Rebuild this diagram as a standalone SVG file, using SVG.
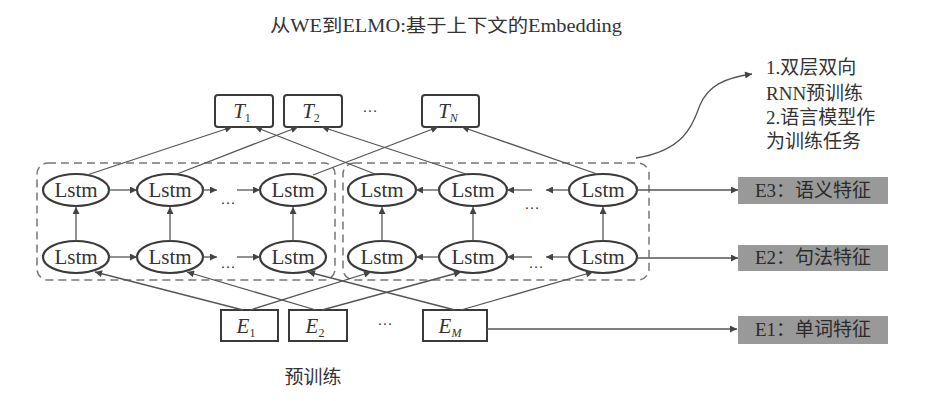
<svg xmlns="http://www.w3.org/2000/svg" width="952" height="401" viewBox="0 0 952 401">
<defs>
<marker id="ah" viewBox="0 0 10 10" refX="10" refY="5" markerWidth="9" markerHeight="7" markerUnits="userSpaceOnUse" orient="auto">
<path d="M0,0 L10,5 L0,10 z" fill="#444"/>
</marker>
</defs>
<style>
text{font-family:"Liberation Serif","Noto Sans CJK SC",serif;fill:#333}
.lstm ellipse{fill:#fff;stroke:#3a3a3a;stroke-width:2.2}
.lstm text{font-size:21px;text-anchor:middle}
.box rect{fill:#fff;stroke:#3a3a3a;stroke-width:2}
.box text{font-size:21px;text-anchor:middle;font-style:italic}
.sub{font-size:12px;font-style:normal}
.subi{font-size:12px;font-style:italic}
.feat rect{fill:#999;stroke:none}
.feat text{font-size:19px;text-anchor:middle;fill:#2a2a2a}
.c line,.c path{stroke:#555;stroke-width:1.3;fill:none;marker-end:url(#ah)}
.dash{fill:none;stroke:#777;stroke-width:1.5;stroke-dasharray:8 5}
.dots{font-size:15px;text-anchor:middle}
.note{font-size:19px}
</style>
<rect width="952" height="401" fill="#fff"/>
<text x="446" y="32" font-size="18" text-anchor="middle" textLength="352" lengthAdjust="spacingAndGlyphs">从WE到ELMO:基于上下文的Embedding</text>

<g id="groups">
<rect class="dash" x="37" y="163" width="298" height="117" rx="11"/>
<rect class="dash" x="343" y="163" width="306" height="117" rx="11"/>
</g>

<g id="T1" class="box"><rect x="215" y="95" width="58" height="32" rx="3"/><text x="242" y="118">T<tspan class="sub" dy="4">1</tspan></text></g>
<g id="T2" class="box"><rect x="284" y="95" width="58" height="32" rx="3"/><text x="311" y="118">T<tspan class="sub" dy="4">2</tspan></text></g>
<g id="TN" class="box"><rect x="422" y="95" width="57" height="32" rx="3"/><text x="448" y="118">T<tspan class="subi" dy="4">N</tspan></text></g>
<text class="dots" x="370" y="112">…</text>

<g id="E1" class="box"><rect x="221" y="310" width="57" height="31"/><text x="246" y="333">E<tspan class="sub" dy="4">1</tspan></text></g>
<g id="E2" class="box"><rect x="289" y="310" width="58" height="31"/><text x="315" y="333">E<tspan class="sub" dy="4">2</tspan></text></g>
<g id="EM" class="box"><rect x="423" y="310" width="64" height="31"/><text x="450" y="333">E<tspan class="subi" dy="4">M</tspan></text></g>
<text class="dots" x="385" y="325">…</text>

<g id="f1u1" class="lstm"><ellipse cx="76" cy="190" rx="33" ry="16"/><text x="76" y="197">Lstm</text></g>
<g id="f1u2" class="lstm"><ellipse cx="170" cy="190" rx="33" ry="16"/><text x="170" y="197">Lstm</text></g>
<g id="f1u3" class="lstm"><ellipse cx="293" cy="190" rx="33" ry="16"/><text x="293" y="197">Lstm</text></g>
<g id="f0u1" class="lstm"><ellipse cx="76" cy="257" rx="33" ry="16"/><text x="76" y="264">Lstm</text></g>
<g id="f0u2" class="lstm"><ellipse cx="170" cy="257" rx="33" ry="16"/><text x="170" y="264">Lstm</text></g>
<g id="f0u3" class="lstm"><ellipse cx="293" cy="257" rx="33" ry="16"/><text x="293" y="264">Lstm</text></g>
<g id="b1u1" class="lstm"><ellipse cx="382" cy="190" rx="34" ry="16"/><text x="382" y="197">Lstm</text></g>
<g id="b1u2" class="lstm"><ellipse cx="473" cy="190" rx="34" ry="16"/><text x="473" y="197">Lstm</text></g>
<g id="b1u3" class="lstm"><ellipse cx="603" cy="190" rx="34" ry="16"/><text x="603" y="197">Lstm</text></g>
<g id="b0u1" class="lstm"><ellipse cx="382" cy="257" rx="34" ry="16"/><text x="382" y="264">Lstm</text></g>
<g id="b0u2" class="lstm"><ellipse cx="473" cy="257" rx="34" ry="16"/><text x="473" y="264">Lstm</text></g>
<g id="b0u3" class="lstm"><ellipse cx="603" cy="257" rx="34" ry="16"/><text x="603" y="264">Lstm</text></g>

<text class="dots" x="228" y="204">…</text>
<text class="dots" x="228" y="268">…</text>
<text class="dots" x="532" y="209">…</text>
<text class="dots" x="536" y="268">…</text>

<g id="E3f" class="feat"><rect x="738" y="177" width="150" height="27"/><text x="813" y="197">E3：语义特征</text></g>
<g id="E2f" class="feat"><rect x="738" y="245" width="150" height="26"/><text x="813" y="264">E2：句法特征</text></g>
<g id="E1f" class="feat"><rect x="738" y="316" width="150" height="28"/><text x="813" y="336">E1：单词特征</text></g>

<g id="note">
<text class="note" x="766" y="74">1.双层双向</text>
<text class="note" x="766" y="100">RNN预训练</text>
<text class="note" x="766" y="124">2.语言模型作</text>
<text class="note" x="766" y="148">为训练任务</text>
</g>
<text x="313" y="384" font-size="19" text-anchor="middle">预训练</text>

<g id="connectors" class="c">
<line x1="87" y1="175" x2="232" y2="127"/>
<line x1="177" y1="174" x2="298" y2="127"/>
<line x1="313" y1="175" x2="438" y2="127"/>
<line x1="375" y1="174" x2="255" y2="127"/>
<line x1="466" y1="174" x2="322" y2="127"/>
<line x1="597" y1="174" x2="462" y2="127"/>

<line x1="243" y1="310" x2="95" y2="272"/>
<line x1="250" y1="310" x2="371" y2="272"/>
<line x1="316" y1="310" x2="187" y2="272"/>
<line x1="322" y1="310" x2="461" y2="272"/>
<line x1="455" y1="310" x2="308" y2="272"/>
<line x1="461" y1="310" x2="593" y2="272"/>

<line x1="76" y1="241" x2="76" y2="207"/>
<line x1="170" y1="241" x2="170" y2="207"/>
<line x1="293" y1="241" x2="293" y2="207"/>
<line x1="382" y1="241" x2="382" y2="207"/>
<line x1="473" y1="241" x2="473" y2="207"/>
<line x1="603" y1="241" x2="603" y2="207"/>

<line x1="109" y1="190" x2="137" y2="190"/>
<line x1="203" y1="190" x2="217" y2="190"/>
<line x1="237" y1="190" x2="260" y2="190"/>
<line x1="109" y1="257" x2="137" y2="257"/>
<line x1="203" y1="257" x2="217" y2="257"/>
<line x1="237" y1="257" x2="260" y2="257"/>

<line x1="439" y1="190" x2="416" y2="190"/>
<line x1="532" y1="190" x2="507" y2="190"/>
<line x1="569" y1="190" x2="546" y2="190"/>
<line x1="439" y1="257" x2="416" y2="257"/>
<line x1="532" y1="257" x2="507" y2="257"/>
<line x1="569" y1="257" x2="546" y2="257"/>

<line x1="637" y1="190" x2="738" y2="190"/>
<line x1="637" y1="258" x2="738" y2="258"/>
<line x1="487" y1="329" x2="737" y2="329"/>

<path d="M636,158 C688,150 694,120 700,105 C708,86 724,78 752,74"/>
</g>
</svg>
